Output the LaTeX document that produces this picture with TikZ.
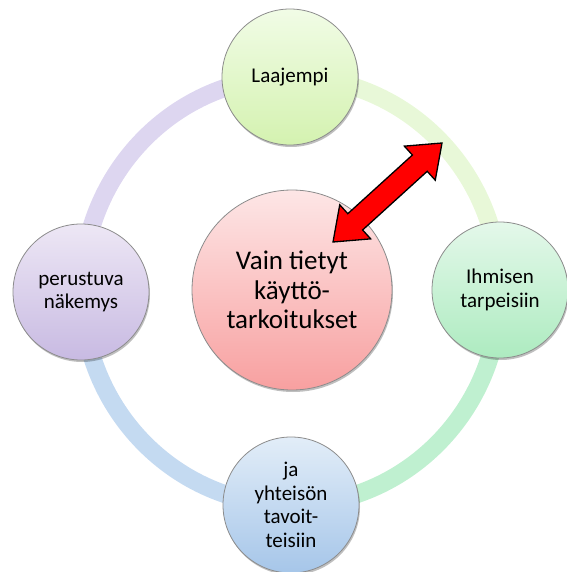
\documentclass[tikz,border=0pt]{standalone}
\usepackage{fontspec}
\setmainfont{Carlito}
\usetikzlibrary{calc,shadows}
\definecolor{ringTR}{HTML}{E8F8D8}
\definecolor{ringRB}{HTML}{BFF0D0}
\definecolor{ringBL}{HTML}{C4DAF1}
\definecolor{ringLT}{HTML}{DDD6F0}
\definecolor{edgegray}{HTML}{8C8C8C}
\definecolor{tTop}{HTML}{F1FCE6}\definecolor{tBot}{HTML}{D4F2B0}
\definecolor{rTop}{HTML}{E4F8EA}\definecolor{rBot}{HTML}{ADEBC0}
\definecolor{bTop}{HTML}{E2EDF8}\definecolor{bBot}{HTML}{A6C6E9}
\definecolor{lTop}{HTML}{EDE7F5}\definecolor{lBot}{HTML}{C8BAE2}
\definecolor{cTop}{HTML}{FDE6E6}\definecolor{cBot}{HTML}{F8A0A0}
\tikzset{
  bubble/.style={circle, draw=edgegray, line width=0.8pt, minimum size=136pt, inner sep=0pt,
     align=center, font=\fontsize{21}{23.5}\selectfont,
     drop shadow={shadow xshift=1pt, shadow yshift=-2pt, opacity=0.25, fill=black}},
  bigbubble/.style={bubble, minimum size=200pt, font=\fontsize{27}{29.5}\selectfont},
  ringarc/.style={line width=18pt},
  arrowshape/.style={fill=red, draw=black, line width=1.3pt, line join=miter}
}
\begin{document}
\begin{tikzpicture}[x=1pt,y=-1pt]
\useasboundingbox (0,0) rectangle (566,572);
% ring
\draw[ringarc, ringTR] (291,77) arc[start angle=-90, end angle=0, x radius=209, y radius=214];
\draw[ringarc, ringRB] (500,291) arc[start angle=0, end angle=90, x radius=209, y radius=214];
\draw[ringarc, ringBL] (291,505) arc[start angle=90, end angle=180, x radius=209, y radius=214];
\draw[ringarc, ringLT] (82,291) arc[start angle=180, end angle=270, x radius=209, y radius=214];
% circles
\node[bubble, top color=tTop, bottom color=tBot] (t) at (290,77) {Laajempi};
\node[bubble, top color=rTop, bottom color=rBot] (r) at (500,290) {Ihmisen\\tarpeisiin};
\node[bubble, top color=bTop, bottom color=bBot] (b) at (291,505) {ja\\yhteisön\\tavoit-\\teisiin};
\node[bubble, top color=lTop, bottom color=lBot] (l) at (81,292) {perustuva\\näkemys};
\node[bigbubble, top color=cTop, bottom color=cBot] (c) at (292,290) {Vain tietyt\\käyttö-\\tarkoitukset};
% double arrow
\coordinate (A) at (333,242);
\coordinate (B) at (442,143);
\coordinate (P) at ($(A)!30pt!(B)$);
\coordinate (Q) at ($(B)!30pt!(A)$);
\draw[arrowshape] (A)
  -- ($(P)!23pt!90:(B)$) -- ($(P)!11pt!90:(B)$)
  -- ($(Q)!11pt!-90:(A)$) -- ($(Q)!23pt!-90:(A)$)
  -- (B)
  -- ($(Q)!23pt!90:(A)$) -- ($(Q)!11pt!90:(A)$)
  -- ($(P)!11pt!-90:(B)$) -- ($(P)!23pt!-90:(B)$)
  -- cycle;
\end{tikzpicture}
\end{document}
